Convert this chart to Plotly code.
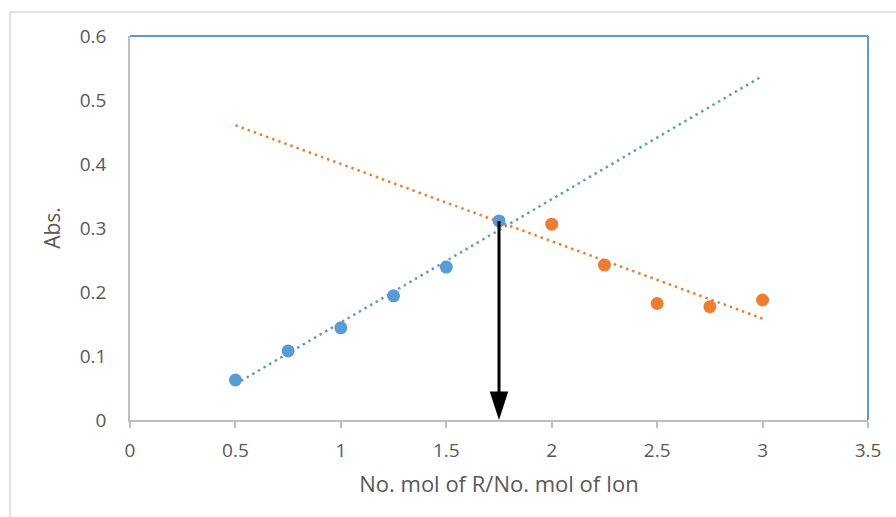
import numpy as np
import plotly.graph_objects as go

# Data
blue_x = [0.5, 0.75, 1.0, 1.25, 1.5, 1.75]
blue_y = [0.0625, 0.108, 0.144, 0.194, 0.239, 0.311]
orange_x = [2.0, 2.25, 2.5, 2.75, 3.0]
orange_y = [0.306, 0.242, 0.182, 0.177, 0.1875]
trend_x = [0.5, 3.0]
x_ticks = [0, 0.5, 1, 1.5, 2, 2.5, 3, 3.5]
y_ticks = [0, 0.1, 0.2, 0.3, 0.4, 0.5, 0.6]
ratio_x = 1.75

BLUE = "#5B9BD5"
ORANGE = "#ED7D31"
GRAY_TXT = "#595959"
AXIS_GRAY = "#BFBFBF"
FONT = "Open Sans"

bfit = np.polyfit(blue_x, blue_y, 1)
ofit = np.polyfit(orange_x, orange_y, 1)

fig = go.Figure()
fig.add_trace(go.Scatter(x=trend_x, y=np.polyval(bfit, trend_x), mode="lines",
                         line=dict(color=BLUE, width=2.5, dash="2.5px,4px"), showlegend=False))
fig.add_trace(go.Scatter(x=trend_x, y=np.polyval(ofit, trend_x), mode="lines",
                         line=dict(color=ORANGE, width=2.5, dash="2.5px,4px"), showlegend=False))
fig.add_trace(go.Scatter(x=blue_x, y=blue_y, mode="markers",
                         marker=dict(color=BLUE, size=13), showlegend=False))
fig.add_trace(go.Scatter(x=orange_x, y=orange_y, mode="markers",
                         marker=dict(color=ORANGE, size=13), showlegend=False))
# arrow shaft and head
fig.add_trace(go.Scatter(x=[ratio_x, ratio_x], y=[blue_y[-1], 0.01], mode="lines",
                         line=dict(color="black", width=3), showlegend=False, cliponaxis=False))
fig.add_trace(go.Scatter(x=[ratio_x], y=[0], mode="markers", cliponaxis=False,
                         marker=dict(symbol="arrow", angle=180, size=30, color="black"),
                         showlegend=False))

fig.update_layout(
    width=896, height=517,
    margin=dict(l=130, r=28, t=36, b=97),
    paper_bgcolor="white", plot_bgcolor="white",
    font=dict(family=FONT, color=GRAY_TXT, size=19),
    xaxis=dict(range=[0, 3.5], tickvals=x_ticks, ticktext=[f"{v:g}" for v in x_ticks],
               showgrid=False, zeroline=False, showline=True, linecolor=AXIS_GRAY, linewidth=1.5,
               ticks="outside", ticklen=6, tickcolor=AXIS_GRAY, tickwidth=1.5,
               tickfont=dict(size=19, color=GRAY_TXT), ticklabelstandoff=6,
               title=dict(text="No. mol of R/No. mol of Ion", font=dict(size=22, color=GRAY_TXT), standoff=15)),
    yaxis=dict(range=[0, 0.6], tickvals=y_ticks, ticktext=[f"{v:g}" for v in y_ticks],
               showgrid=False, zeroline=False, showline=True, linecolor=AXIS_GRAY, linewidth=1.5,
               ticks="", tickfont=dict(size=19, color=GRAY_TXT), ticklabelstandoff=18,
               title=dict(text="Abs.", font=dict(size=21, color=GRAY_TXT), standoff=13)),
    shapes=[
        dict(type="line", xref="paper", yref="paper", x0=0, x1=1, y0=1, y1=1,
             line=dict(color=BLUE, width=2)),
        dict(type="line", xref="paper", yref="paper", x0=1, x1=1, y0=0, y1=1,
             line=dict(color=BLUE, width=2)),
        dict(type="rect", xref="paper", yref="paper", x0=-0.1626, x1=1.2, y0=-0.5, y1=1.0625,
             line=dict(color="#D9D9D9", width=1.5), layer="below"),
    ],
)

fig.write_html("out.html")
